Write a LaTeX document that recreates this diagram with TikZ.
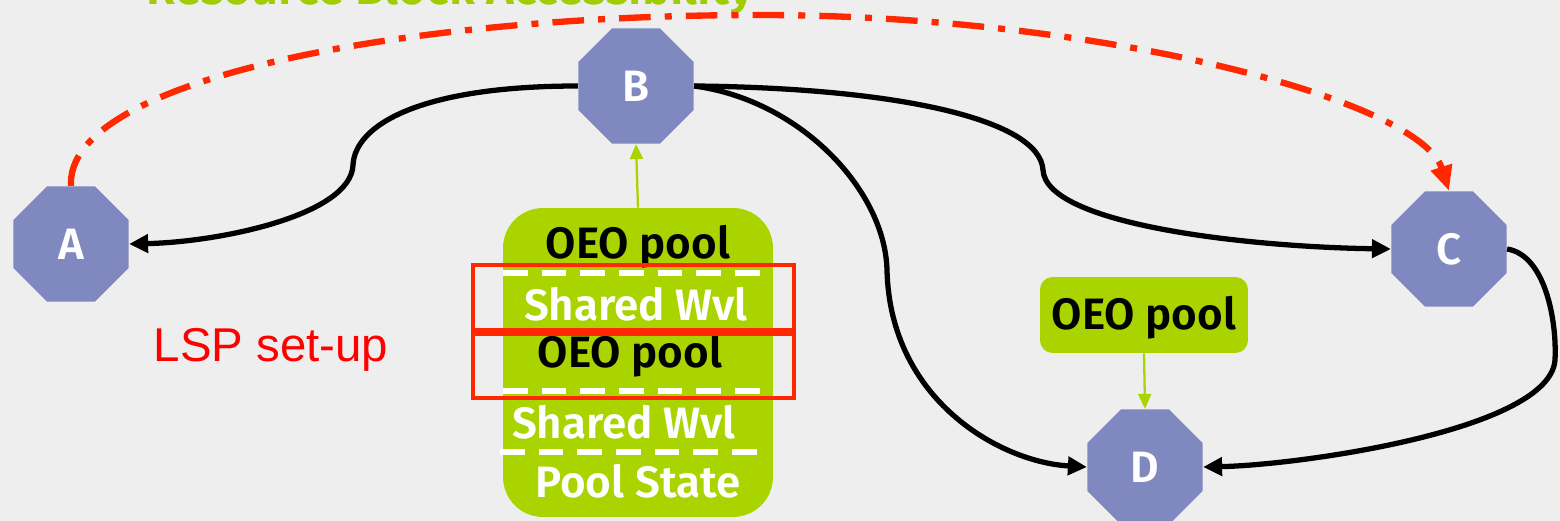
\documentclass[tikz,border=0pt]{standalone}
\usepackage{fontspec}
\setmainfont{Fira Sans}[BoldFont={Fira Sans SemiBold}]
\newfontfamily\lsfont{Liberation Sans}
\usetikzlibrary{shapes.geometric,arrows.meta,calc}
\definecolor{bg}{RGB}{238,238,238}
\definecolor{oct}{RGB}{128,136,192}
\definecolor{lime}{RGB}{170,212,0}
\definecolor{titlegreen}{RGB}{160,204,0}
\definecolor{redline}{RGB}{255,40,0}
\definecolor{lspred}{RGB}{255,0,0}
\begin{document}
\begin{tikzpicture}[x=0.02cm,y=-0.02cm,
  octnode/.style={regular polygon, regular polygon sides=8, minimum size=2.5cm, inner sep=0pt, fill=oct, text=white, font=\fontsize{25}{30}\selectfont\bfseries},
  link/.style={line width=3pt, -{Triangle[length=0.38cm,width=0.36cm]}},
  greenlink/.style={draw=lime, line width=1.3pt, -{Triangle[length=0.3cm,width=0.26cm]}},
  poolbox/.style={fill=lime, inner sep=0pt},
  blacktext/.style={text=black, font=\fontsize{25}{30}\selectfont\bfseries},
  whitetext/.style={text=white, font=\fontsize{25}{30}\selectfont\bfseries},
  wdash/.style={draw=white, line width=3.2pt, dash pattern=on 14pt off 8pt},
  redbox/.style={draw=redline, line width=2.7pt},
  reddash/.style={draw=redline, line width=3.6pt, dash pattern=on 18pt off 8pt on 4pt off 8pt, -{Triangle[length=0.5cm,width=0.42cm]}}
]
\useasboundingbox (0,0) rectangle (1560,521);
\fill[bg] (0,0) rectangle (1560,521);
\clip (0,0) rectangle (1560,521);

% title (cut off at top, as in the reference)
\node[anchor=base, inner sep=0pt, text=titlegreen, font=\fontsize{27}{32}\selectfont\bfseries] (title) at (450,4) {Resource Block Accessibility};

% octagon nodes
\node[octnode] (A) at (71,244) {A};
\node[octnode] (B) at (636,86) {B};
\node[octnode] (C) at (1449,249) {C};
\node[octnode] (D) at (1145,467) {D};

% big pool box
\node[poolbox, rounded corners=0.8cm, minimum width=5.4cm, minimum height=6.18cm] (big) at (638,362.5) {};
\node[blacktext] (t1) at (638,247) {OEO pool};
\node[whitetext] (t2) at (636,304) {Shared Wvl};
\node[blacktext] (t3) at (630,356) {OEO pool};
\node[whitetext] (t4) at (624,422) {Shared Wvl};
\node[whitetext] (t5) at (638,481) {Pool State};
\draw[wdash] (503,273) -- (773,273);
\draw[wdash] (503,391) -- (773,391);
\draw[wdash] (500,452) -- (770,452);
\draw[redbox] (473,265) rectangle (794,330);
\draw[redbox] (473,334) rectangle (794,398);

% small pool box
\node[poolbox, rounded corners=0.25cm, minimum width=4.16cm, minimum height=1.52cm] (small) at (1144,315) {};
\node[blacktext] (t6) at (1144,318) {OEO pool};

% LSP label
\node[text=lspred, font=\lsfont\fontsize{27}{32}\selectfont] (lsp) at (271,350) {LSP set-up};

% green arrows
\draw[greenlink] (big.north) -- (B.south);
\draw[greenlink] (small.south) -- (D.north);

% black connectors
\draw[link] (B.west) .. controls (420,86) and (355,125) .. (353,165) .. controls (351,215) and (220,242) .. (A.east);
\draw[link] (B.east) .. controls (900,88) and (1040,120) .. (1043,170) .. controls (1046,225) and (1250,247) .. (C.west);
\draw[link] (B.east) .. controls (800,100) and (885,190) .. (887,270) .. controls (890,400) and (1000,462) .. (D.west);
\draw[link] (C.east) .. controls (1545,255) and (1557,320) .. (1555,360) .. controls (1550,430) and (1300,465) .. (D.east);

% red dash-dot arc
\draw[reddash] (A.north) .. controls (65,80) and (400,15) .. (760,15) .. controls (1100,15) and (1420,100) .. (C.north);
\end{tikzpicture}
\end{document}
